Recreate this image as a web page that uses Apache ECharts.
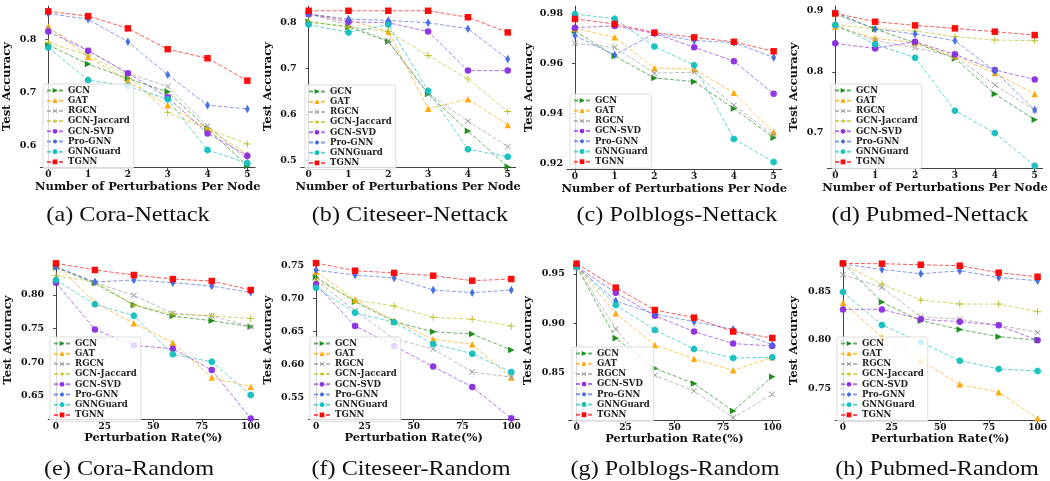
<!DOCTYPE html>
<html>
<head>
<meta charset="UTF-8">
<title>Robustness under Nettack / Random attacks</title>
<script src="https://cdn.jsdelivr.net/npm/echarts@6.0.0/dist/echarts.min.js"></script>
<style>
  html, body { margin: 0; padding: 0; background: #fff; }
  #main { width: 1050px; height: 481px; }
</style>
</head>
<body>
<div id="main"></div>
<script>
// methods, in legend order
var methods = ['GCN', 'GAT', 'RGCN', 'GCN-Jaccard', 'GCN-SVD', 'Pro-GNN', 'GNNGuard', 'TGNN'];

// x values and x tick labels
var nettackX = [0, 1, 2, 3, 4, 5];
var randomX = [0, 20, 40, 60, 80, 100];
var nettackTicks = [0, 1, 2, 3, 4, 5];
var randomTicks = [0, 25, 50, 75, 100];

// test accuracy, one row per method (null = not reported)
var coraNettack = [
  [0.789, 0.753, 0.726, 0.701, 0.632, 0.562],
  [0.823, 0.767, 0.721, 0.676, 0.632, 0.584],
  [0.820, 0.779, 0.736, 0.711, 0.637, 0.574],
  [0.793, 0.770, 0.731, 0.662, 0.632, 0.603],
  [0.814, 0.778, 0.736, 0.691, 0.623, 0.581],
  [0.848, 0.837, 0.795, 0.733, 0.676, 0.669],
  [0.784, 0.723, 0.712, 0.687, 0.592, 0.567],
  [0.852, 0.843, 0.820, 0.781, 0.764, 0.722]
];
var citeseerNettack = [
  [0.801, 0.790, 0.758, 0.644, 0.564, 0.486],
  [0.818, 0.805, 0.780, 0.612, 0.633, 0.577],
  [0.818, 0.794, 0.760, 0.646, 0.585, 0.530],
  [0.801, 0.790, 0.780, 0.728, 0.677, 0.606],
  [0.818, 0.801, 0.799, 0.780, 0.695, 0.695],
  [0.818, 0.807, 0.804, 0.799, 0.786, 0.720],
  [0.795, 0.778, 0.795, 0.651, 0.524, 0.508],
  [0.825, 0.825, 0.825, 0.825, 0.811, 0.778]
];
var polblogsNettack = [
  [0.9732, 0.9631, 0.9543, 0.9528, 0.9420, 0.9303],
  [0.9742, 0.9706, 0.9583, 0.9578, 0.9483, 0.9325],
  [0.9682, 0.9666, 0.9562, 0.9566, 0.9433, 0.9314],
  null,
  [0.9745, 0.9752, 0.9722, 0.9666, 0.9610, 0.9479],
  [0.9713, 0.9635, 0.9722, 0.9693, 0.9685, 0.9625],
  [0.9800, 0.9781, 0.9669, 0.9594, 0.9298, 0.9205],
  [0.9780, 0.9760, 0.9725, 0.9706, 0.9688, 0.9650]
];
var pubmedNettack = [
  [0.8945, 0.8700, 0.8477, 0.8220, 0.7638, 0.7218],
  [0.8738, 0.8548, 0.8477, 0.8259, 0.7981, 0.7638],
  [0.8766, 0.8510, 0.8395, 0.8248, 0.7785, 0.7376],
  [0.8766, 0.8706, 0.8668, 0.8575, 0.8520, 0.8510],
  [0.8466, 0.8384, 0.8493, 0.8286, 0.8030, 0.7877],
  [0.8973, 0.8700, 0.8619, 0.8510, 0.8014, 0.7376],
  [0.8766, 0.8450, 0.8232, 0.7365, 0.7000, 0.6466],
  [0.8956, 0.8820, 0.8760, 0.8711, 0.8657, 0.8602]
];
var coraRandom = [
  [0.8412, 0.8174, 0.7851, 0.7687, 0.7617, 0.7528],
  [0.8462, 0.7886, 0.7578, 0.7290, 0.6773, 0.6634],
  [0.8412, 0.8184, 0.7995, 0.7727, 0.7687, 0.7528],
  [0.8288, 0.8194, 0.7851, 0.7717, 0.7687, 0.7652],
  [0.8184, 0.7488, 0.7250, 0.7200, 0.6882, 0.6162],
  [0.8422, 0.8194, 0.8224, 0.8184, 0.8134, 0.8040],
  [0.8224, 0.7861, 0.7692, 0.7116, 0.7006, 0.6510],
  [0.8472, 0.8373, 0.8298, 0.8238, 0.8209, 0.8075]
];
var citeseerRandom = [
  [0.7323, 0.6953, 0.6649, 0.6497, 0.6462, 0.6219],
  [0.7409, 0.6978, 0.6665, 0.6381, 0.6305, 0.5799],
  [0.7282, 0.6816, 0.6386, 0.6234, 0.5885, 0.5804],
  [0.7282, 0.6978, 0.6887, 0.6715, 0.6685, 0.6584],
  [0.7216, 0.6584, 0.6280, 0.5966, 0.5657, 0.5181],
  [0.7434, 0.7358, 0.7313, 0.7130, 0.7090, 0.7130],
  [0.7166, 0.6786, 0.6639, 0.6310, 0.6163, 0.5885],
  [0.7540, 0.7424, 0.7389, 0.7348, 0.7272, 0.7297]
];
var polblogsRandom = [
  [0.9575, 0.8846, 0.8541, 0.8385, 0.8107, 0.8456],
  [0.9575, 0.9100, 0.8778, 0.8639, 0.8520, 0.8653],
  [0.9575, 0.8941, 0.8470, 0.8310, 0.8039, 0.8276],
  null,
  [0.9575, 0.9310, 0.9076, 0.8914, 0.8792, 0.8768],
  [0.9575, 0.9225, 0.9093, 0.9015, 0.8937, 0.8778],
  [0.9575, 0.9185, 0.8931, 0.8737, 0.8646, 0.8653],
  [0.9605, 0.9361, 0.9134, 0.9056, 0.8914, 0.8849]
];
var pubmedRandom = [
  [0.8793, 0.8393, 0.8200, 0.8110, 0.8034, 0.8000],
  [0.8386, 0.8028, 0.7786, 0.7541, 0.7459, 0.7190],
  [0.8676, 0.8545, 0.8241, 0.8214, 0.8155, 0.8079],
  [0.8786, 0.8579, 0.8414, 0.8372, 0.8372, 0.8293],
  [0.8317, 0.8317, 0.8214, 0.8190, 0.8152, 0.7997],
  [0.8786, 0.8731, 0.8686, 0.8717, 0.8648, 0.8614],
  [0.8497, 0.8155, 0.7976, 0.7786, 0.7700, 0.7679],
  [0.8793, 0.8790, 0.8779, 0.8769, 0.8697, 0.8655]
];

// marker style per method
var colors = ['#138a13', '#ffa500', '#9a9a9a', '#bcbd22', '#8a2be2', '#4169e1', '#12bfbf', '#ff0000'];
var symbols = [
  'triangle',
  'triangle',
  'path://M0,1L1,0L5,4L9,0L10,1L6,5L10,9L9,10L5,6L1,10L0,9L4,5Z',
  'path://M4.3,0H5.7V4.3H10V5.7H5.7V10H4.3V5.7H0V4.3H4.3Z',
  'circle',
  'diamond',
  'path://M3,0H7L10,3V7L7,10H3L0,7V3Z',
  'rect'
];
var symbolSizes = [6.5, 6.5, 6, 7, 6.5, [5, 8.5], 6.5, 6.5];
var symbolRotates = [-90, 0, 0, 0, 0, 0, 0, 0];

var serif = 'DejaVu Serif';

// panel layout: grid edges in px, y range and ticks
var panels = [
  { cap: '(a) Cora-Nettack', d: coraNettack, xs: nettackX, xt: nettackTicks, xmin: -0.2, xmax: 5.2,
    l: 40.3, r: 255.3, t: 6, b: 167, ymin: 0.56, ymax: 0.862, yt: [0.6, 0.7, 0.8], dec: 1, gap: 27, lgL: 43, lgT: 84, cx: 128, cy: 215 },
  { cap: '(b) Citeseer-Nettack', d: citeseerNettack, xs: nettackX, xt: nettackTicks, xmin: -0.2, xmax: 5.2,
    l: 300.7, r: 515.7, t: 6, b: 167, ymin: 0.4855, ymax: 0.8354, yt: [0.5, 0.6, 0.7, 0.8], dec: 1, gap: 27, lgL: 305, lgT: 85, cx: 410, cy: 215 },
  { cap: '(c) Polblogs-Nettack', d: polblogsNettack, xs: nettackX, xt: nettackTicks, xmin: -0.2, xmax: 5.2,
    l: 567, r: 781.6, t: 6, b: 169, ymin: 0.9177, ymax: 0.9832, yt: [0.92, 0.94, 0.96, 0.98], dec: 2, gap: 32, lgL: 570, lgT: 94, cx: 677, cy: 215 },
  { cap: '(d) Pubmed-Nettack', d: pubmedNettack, xs: nettackX, xt: nettackTicks, xmin: -0.2, xmax: 5.2,
    l: 827.3, r: 1042.7, t: 6, b: 168, ymin: 0.6428, ymax: 0.9077, yt: [0.7, 0.8, 0.9], dec: 1, gap: 27, lgL: 831, lgT: 84, cx: 930, cy: 215 },
  { cap: '(e) Cora-Random', d: coraRandom, xs: randomX, xt: randomTicks, xmin: -4, xmax: 104,
    l: 48.2, r: 258.5, t: 261, b: 419, ymin: 0.6153, ymax: 0.8507, yt: [0.65, 0.70, 0.75, 0.80], dec: 2, gap: 34, lgL: 50, lgT: 337, cx: 129, cy: 469 },
  { cap: '(f) Citeseer-Random', d: citeseerRandom, xs: randomX, xt: randomTicks, xmin: -4, xmax: 104,
    l: 308.2, r: 519.1, t: 261, b: 419, ymin: 0.517, ymax: 0.7571, yt: [0.55, 0.60, 0.65, 0.70, 0.75], dec: 2, gap: 34, lgL: 310, lgT: 337, cx: 411, cy: 469 },
  { cap: '(g) Polblogs-Random', d: polblogsRandom, xs: randomX, xt: randomTicks, xmin: -4, xmax: 104,
    l: 568.8, r: 780.1, t: 261, b: 420, ymin: 0.8015, ymax: 0.9632, yt: [0.85, 0.90, 0.95], dec: 2, gap: 35, lgL: 572, lgT: 347, cx: 675, cy: 469 },
  { cap: '(h) Pubmed-Random', d: pubmedRandom, xs: randomX, xt: randomTicks, xmin: -4, xmax: 104,
    l: 835.2, r: 1046.5, t: 261, b: 420, ymin: 0.7172, ymax: 0.8818, yt: [0.75, 0.80, 0.85], dec: 2, gap: 35, lgL: 837, lgT: 337, cx: 937, cy: 469 }
];

var grids = [], xAxes = [], yAxes = [], legends = [], series = [], graphics = [];
var axisColor = '#444';

panels.forEach(function (p, i) {
  var isNettack = i < 4;
  grids.push({ left: p.l, top: p.t, width: p.r - p.l, height: p.b - p.t });

  xAxes.push({
    type: 'value', gridIndex: i, min: p.xmin, max: p.xmax,
    name: isNettack ? 'Number of Perturbations Per Node' : 'Perturbation Rate(%)',
    nameLocation: 'middle', nameGap: isNettack ? 14 : 13,
    nameTextStyle: { fontFamily: serif, fontWeight: 'bold', fontSize: 11.5, color: '#111' },
    axisLine: { show: true, lineStyle: { color: axisColor, width: 1 } },
    axisTick: { show: true, length: 3, customValues: p.xt, lineStyle: { color: axisColor } },
    axisLabel: { customValues: p.xt, margin: 3, fontFamily: serif, fontWeight: 'bold', fontSize: 9, color: '#111' },
    splitLine: { show: false }
  });

  yAxes.push({
    type: 'value', gridIndex: i, min: p.ymin, max: p.ymax,
    name: 'Test Accuracy', nameLocation: 'middle', nameGap: p.gap,
    nameTextStyle: { fontFamily: serif, fontWeight: 'bold', fontSize: 11.5, color: '#111' },
    axisLine: { show: true, lineStyle: { color: axisColor, width: 1 } },
    axisTick: { show: true, length: 3, customValues: p.yt, lineStyle: { color: axisColor } },
    axisLabel: {
      customValues: p.yt, margin: 4, fontFamily: serif, fontWeight: 'bold', fontSize: 9.5, color: '#111',
      formatter: (function (dec) { return function (v) { return Number(v).toFixed(dec); }; })(p.dec)
    },
    splitLine: { show: false }
  });

  var names = [];
  p.d.forEach(function (row, j) {
    if (!row) return;
    names.push(methods[j]);
    series.push({
      type: 'line', name: methods[j], xAxisIndex: i, yAxisIndex: i,
      data: p.xs.map(function (x, k) { return [x, row[k]]; }),
      symbol: symbols[j], symbolSize: symbolSizes[j], symbolRotate: symbolRotates[j],
      showAllSymbol: true, clip: false,
      itemStyle: { color: colors[j], opacity: 0.95 },
      lineStyle: { color: colors[j], width: 1, type: [4, 2], opacity: 0.65 },
      emphasis: { disabled: true },
      z: 2 + j * 0.01
    });
  });

  legends.push({
    data: names, orient: 'vertical', left: p.lgL, top: p.lgT,
    itemWidth: 16, itemHeight: 6, itemGap: 1.2, padding: [2, 4, 2, 3],
    backgroundColor: 'rgba(255,255,255,0.8)', borderColor: '#dddddd', borderWidth: 1, borderRadius: 2,
    textStyle: { fontFamily: serif, fontWeight: 'bold', fontSize: 8.6, color: '#222' },
    selectedMode: false
  });

  graphics.push({
    type: 'text', x: p.cx, y: p.cy, scaleX: 1.1,
    style: { text: p.cap, fontFamily: 'Liberation Serif', fontSize: 22, fill: '#111', textAlign: 'center', textVerticalAlign: 'middle' }
  });
});

var chart = echarts.init(document.getElementById('main'), null, { renderer: 'canvas' });
chart.setOption({
  animation: false,
  backgroundColor: '#fff',
  grid: grids,
  xAxis: xAxes,
  yAxis: yAxes,
  legend: legends,
  series: series,
  graphic: graphics
});
</script>
</body>
</html>
